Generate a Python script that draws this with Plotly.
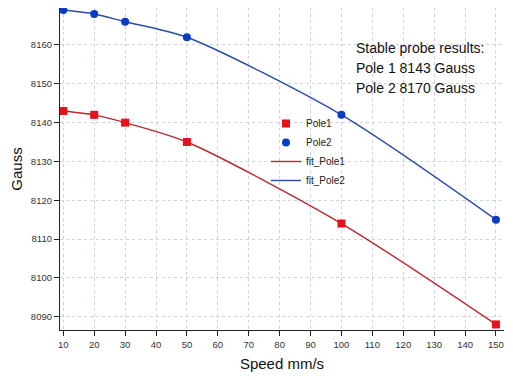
import plotly.graph_objects as go

speed = [10, 20, 30, 50, 100, 150]
pole1 = [8143, 8142, 8140, 8135, 8114, 8088]
pole2 = [8169, 8168, 8166, 8162, 8142, 8115]
x_ticks = list(range(10, 151, 10))
y_ticks = list(range(8090, 8161, 10))
note_lines = ["Stable probe results:", "Pole 1 8143 Gauss", "Pole 2 8170 Gauss"]

RED_M = "#e8101a"
BLUE_M = "#0a3cc8"
RED_L = "#b8282e"
BLUE_L = "#2a4aa8"
FONT = "Liberation Sans"

# the page has an 8px body margin; keep the figure small enough to avoid scrollbars
W, H = 497, 364
L, R, T, B = 52, 496, 0, 322  # plot area in figure pixels

fig = go.Figure()
fig.add_trace(go.Scatter(x=speed, y=pole1, mode="lines", name="fit_Pole1", legendrank=3,
                         line=dict(color=RED_L, width=1.4, shape="spline", smoothing=0.75)))
fig.add_trace(go.Scatter(x=speed, y=pole2, mode="lines", name="fit_Pole2", legendrank=4,
                         line=dict(color=BLUE_L, width=1.4, shape="spline", smoothing=0.75)))
fig.add_trace(go.Scatter(x=speed, y=pole1, mode="markers", name="Pole1", legendrank=1,
                         marker=dict(symbol="square", size=8, color=RED_M), cliponaxis=False))
fig.add_trace(go.Scatter(x=speed, y=pole2, mode="markers", name="Pole2", legendrank=2,
                         marker=dict(symbol="circle", size=8, color=BLUE_M), cliponaxis=False))

for i, line in enumerate(note_lines):
    top_px = 30 + 20 * i
    fig.add_annotation(
        x=(346 - L) / (R - L), y=1 - (top_px - T) / (B - T), xref="paper", yref="paper",
        showarrow=False, text=line, align="left", xanchor="left", yanchor="top",
        font=dict(family=FONT, size=14, color="#111111"),
    )

fig.update_layout(
    width=W, height=H,
    margin=dict(l=L, r=W - R, t=T, b=H - B, autoexpand=False),
    paper_bgcolor="white", plot_bgcolor="white",
    font=dict(family=FONT, size=9.5, color="#333333"),
    legend=dict(x=(258 - L) / (R - L), y=1 - (101 - T) / (B - T), xanchor="left", yanchor="top",
                bgcolor="rgba(0,0,0,0)", font=dict(size=10, color="#222222"),
                tracegroupgap=0, itemwidth=30, traceorder="normal"),
    xaxis=dict(range=[8.93, 152.6], tickvals=x_ticks, showline=True, linecolor="#222222",
               linewidth=1.2, ticks="outside", ticklen=5, tickcolor="#222222",
               showgrid=True, gridcolor="#ccd3e3", griddash="dot", gridwidth=1,
               zeroline=False, automargin=False, ticklabeloverflow="allow",
               title=dict(text="Speed mm/s", font=dict(size=15, color="#111111"), standoff=11)),
    yaxis=dict(range=[8086.57, 8169.53], tickvals=y_ticks, showline=True, linecolor="#222222",
               linewidth=1.2, ticks="outside", ticklen=5, tickcolor="#222222",
               showgrid=True, gridcolor="#ccd3e3", griddash="dot", gridwidth=1,
               zeroline=False, automargin=False,
               title=dict(text="Gauss", font=dict(size=15, color="#111111"))),
)

fig.write_html("out.html")
